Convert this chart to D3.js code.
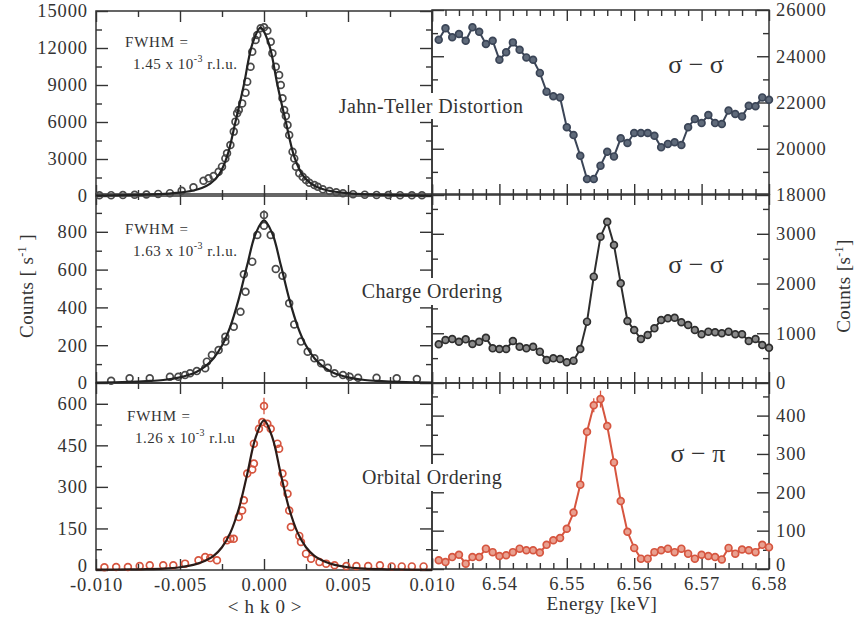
<!DOCTYPE html>
<html>
<head>
<meta charset="utf-8">
<script src="https://cdn.jsdelivr.net/npm/d3@7"></script>
<style>
  body { margin: 0; background: #fff; }
  svg { display: block; }
  text { font-family: "Liberation Serif", "DejaVu Serif", serif; fill: #333; }
</style>
</head>
<body>
<div id="canvas"></div>
<script>
// ---- data ----
// left column: <h k 0> scans (r.l.u.)
const tlH = [-0.0098,-0.0091,-0.0084,-0.0077,-0.0070,-0.0063,-0.0056,-0.0049,-0.0042,-0.0036,-0.0033,-0.0030,-0.0027,-0.0025,-0.0023,-0.0022,-0.0020,-0.0018,-0.0017,-0.0016,-0.0015,-0.0013,-0.0011,-0.0010,-0.0008,-0.0007,-0.0005,-0.0004,-0.0002,0.0000,0.0002,0.0004,0.0005,0.0007,0.0009,0.0010,0.0011,0.0012,0.0013,0.0014,0.0015,0.0017,0.0018,0.0019,0.0021,0.0023,0.0025,0.0027,0.0030,0.0032,0.0035,0.0039,0.0043,0.0047,0.0053,0.0060,0.0067,0.0074,0.0081,0.0088,0.0094];
const tlC = [60,70,80,100,120,170,230,420,700,1240,1430,1620,1970,2380,3050,3460,4140,5220,6030,6700,6970,7510,8380,9270,10480,11700,12650,13050,13600,13680,13400,12510,11570,10480,9810,9000,7920,6970,6490,5760,4950,3590,3050,2380,1840,1560,1300,1080,890,750,540,410,300,220,150,110,90,80,70,60,60];

const mlH = [-0.0091,-0.0080,-0.0068,-0.0056,-0.0051,-0.0047,-0.0044,-0.0040,-0.0035,-0.0034,-0.0031,-0.0027,-0.0023,-0.0023,-0.0018,-0.0014,-0.0011,-0.0012,-0.0007,-0.0004,0.0000,0.0000,0.0004,0.0007,0.0011,0.0015,0.0018,0.0022,0.0026,0.0030,0.0034,0.0038,0.0042,0.0047,0.0051,0.0056,0.0067,0.0079,0.0091];
const mlC = [12,25,25,33,33,42,51,63,78,113,148,175,219,245,298,377,483,575,642,783,889,832,783,603,568,422,310,219,166,131,104,81,51,42,33,28,28,25,21];

const blH = [-0.0095,-0.0088,-0.0081,-0.0074,-0.0068,-0.0060,-0.0054,-0.0047,-0.0039,-0.0035,-0.0032,-0.0028,-0.0022,-0.0020,-0.0018,-0.0015,-0.0013,-0.0012,-0.0010,-0.0007,-0.0006,-0.0006,-0.0003,-0.0001,0.0000,0.0002,0.0004,0.0008,0.0009,0.0011,0.0012,0.0014,0.0015,0.0016,0.0021,0.0022,0.0025,0.0028,0.0033,0.0037,0.0042,0.0049,0.0055,0.0062,0.0069,0.0076,0.0082,0.0088,0.0095];
const blC = [10,11,11,14,17,17,17,23,35,47,43,35,107,113,113,191,215,252,348,363,384,456,510,534,592,528,510,456,438,348,312,275,215,155,123,101,59,41,29,23,17,14,14,14,17,13,13,13,13];

// fitted line profiles
const tlFitH = [-0.0100,-0.0082,-0.0062,-0.0052,-0.0042,-0.0037,-0.0032,-0.0027,-0.0022,-0.0017,-0.0012,-0.0007,-0.0002,0.0003,0.0008,0.0013,0.0018,0.0023,0.0028,0.0033,0.0038,0.0048,0.0058,0.0078,0.0100];
const tlFit = [40,70,150,250,450,650,1000,1700,3200,6000,9000,12300,13650,12300,9000,6000,3200,1700,1000,650,450,250,150,70,40];
const fitH = [-0.010,-0.008,-0.007,-0.006,-0.005,-0.0045,-0.004,-0.0035,-0.003,-0.0025,-0.002,-0.0015,-0.001,-0.0005,0,0.0005,0.001,0.0015,0.002,0.0025,0.003,0.0035,0.004,0.0045,0.005,0.006,0.007,0.008,0.010];
const mlFit = [2,6,10,16,30,42,60,88,131,198,300,445,624,790,860,790,624,445,300,198,131,88,60,42,30,16,10,6,2];
const blFit = [1,2,3,5,10,15,22,33,51,82,135,221,346,478,540,478,346,221,135,82,51,33,22,15,10,5,3,2,1];

// right column: energy scans (keV)
const energy = [6.531,6.532,6.533,6.534,6.535,6.536,6.537,6.538,6.539,6.540,6.541,6.542,6.543,6.544,6.545,6.546,6.547,6.548,6.549,6.550,6.551,6.552,6.553,6.554,6.555,6.556,6.557,6.558,6.559,6.560,6.561,6.562,6.563,6.564,6.565,6.566,6.567,6.568,6.569,6.570,6.571,6.572,6.573,6.574,6.575,6.576,6.577,6.578,6.579,6.580];
const trC = [24716,25210,24820,24960,24670,25250,25060,24530,24670,23850,24170,24600,24280,23950,23850,23280,22470,22270,22220,20930,20590,19700,18690,18690,19270,19870,19670,20450,20250,20680,20680,20680,20560,20060,20210,20280,20160,20930,21290,21110,21460,21110,21070,21650,21500,21400,21860,21840,22220,22120];
const mrC = [778,864,885,830,878,784,830,911,697,684,684,844,730,697,730,630,462,496,482,415,449,684,1233,2138,2942,3243,2774,2004,1246,1066,885,965,1099,1267,1300,1313,1220,1166,1066,979,1032,1019,999,1032,979,979,844,885,764,710];
const brC = [23,18,31,37,14,31,31,53,44,34,36,44,53,49,49,43,63,75,81,105,147,220,358,427,443,373,278,177,97,55,27,27,44,49,53,44,53,40,27,37,34,31,25,55,40,51,49,44,63,57];

// error bars [x, y, err]
const mlErr = [[0.0000, 889, 25]];
const blErr = [[0.0000, 592, 30]];
const brErr = [[6.554, 427, 18], [6.555, 443, 22]];

// ticks
const xLMajor = [-0.010,-0.005,0,0.005,0.010];
const xLMinor = [-0.0075,-0.0025,0.0025,0.0075];
const xRMajor = [6.53,6.54,6.55,6.56,6.57,6.58];
const xRMinor = [6.532,6.534,6.536,6.538,6.542,6.544,6.546,6.548,6.552,6.554,6.556,6.558,6.562,6.564,6.566,6.568,6.572,6.574,6.576,6.578];
const tlTicks = [0,3000,6000,9000,12000,15000], tlMinor = [1500,4500,7500,10500,13500];
const mlTicks = [0,200,400,600,800], mlMinor = [100,300,500,700,900];
const blTicks = [0,150,300,450,600], blMinor = [75,225,375,525];
const trTicks = [18000,20000,22000,24000,26000], trMinor = [19000,21000,23000,25000];
const mrTicks = [0,1000,2000,3000], mrMinor = [500,1500,2500,3500];
const brTicks = [0,100,200,300,400], brMinor = [50,150,250,350,450];

// ---- layout ----
const width = 859, height = 626;
const svg = d3.select("#canvas").append("svg").attr("width", width).attr("height", height);

const xL = d3.scaleLinear().domain([-0.010, 0.010]).range([96, 432]);
const xR = d3.scaleLinear().domain([6.53, 6.58]).range([432, 769]);

const yTL = d3.scaleLinear().domain([0, 15000]).range([196, 11]);
const yML = d3.scaleLinear().domain([0, 1000]).range([383, 194]);
const yBL = d3.scaleLinear().domain([0, 675]).range([570, 383]);
const yTR = d3.scaleLinear().domain([18000, 26000]).range([195, 10]);
const yMR = d3.scaleLinear().domain([0, 3800]).range([383, 194]);
const yBR = d3.scaleLinear().domain([0, 485]).range([569, 383]);

const INK = "#333";

function tickSet(axis, scale, tr, values, size, fmt, pad) {
  const a = axis(scale).tickValues(values).tickSize(-size).tickPadding(pad || 7)
    .tickFormat(fmt || (() => ""));
  const g = svg.append("g").attr("transform", tr).call(a);
  g.select(".domain").remove();
  g.attr("font-size", 18.5).attr("font-family", "Liberation Serif").attr("color", INK);
  g.selectAll("text").attr("letter-spacing", 0.9);
  g.selectAll("line").attr("stroke-width", 1.4);
  return g;
}

function panel(x, y, yTicks, yMinor, side, xTicks, xMinor, xLabels, xFmt) {
  const [x0, x1] = x.range();
  const top = Math.min(...y.range()), bot = Math.max(...y.range());
  svg.append("rect").attr("x", x0).attr("y", top).attr("width", x1 - x0).attr("height", bot - top)
    .attr("fill", "none").attr("stroke", INK).attr("stroke-width", 1.5);
  const yfmt = d => d;
  const yl = tickSet(d3.axisLeft, y, `translate(${x0},0)`, yTicks, 12, side === "left" ? yfmt : null, 8);
  tickSet(d3.axisLeft, y, `translate(${x0},0)`, yMinor, 6);
  const yr = tickSet(d3.axisRight, y, `translate(${x1},0)`, yTicks, 12, side === "right" ? yfmt : null, 7);
  tickSet(d3.axisRight, y, `translate(${x1},0)`, yMinor, 6);
  tickSet(d3.axisTop, x, `translate(0,${top})`, xTicks, 11);
  tickSet(d3.axisTop, x, `translate(0,${top})`, xMinor, 6);
  tickSet(d3.axisBottom, x, `translate(0,${bot})`, xTicks, 11, xLabels ? xFmt : null, 8);
  tickSet(d3.axisBottom, x, `translate(0,${bot})`, xMinor, 6);
  // the bottom row's zero labels sit a little higher, clear of the x labels
  if (xLabels) [yl, yr].forEach(g => g.selectAll("text").filter(d => d === 0).attr("dy", "0.1em"));
}

const fmtL = d => d.toFixed(3);
const fmtR = d => Math.abs(d - 6.53) < 1e-9 ? "" : d.toFixed(2);

panel(xL, yTL, tlTicks, tlMinor, "left", xLMajor, xLMinor, false);
panel(xL, yML, mlTicks, mlMinor, "left", xLMajor, xLMinor, false);
panel(xL, yBL, blTicks, blMinor, "left", xLMajor, xLMinor, true, fmtL);
panel(xR, yTR, trTicks, trMinor, "right", xRMajor, xRMinor, false);
panel(xR, yMR, mrTicks, mrMinor, "right", xRMajor, xRMinor, false);
panel(xR, yBR, brTicks, brMinor, "right", xRMajor, xRMinor, true, fmtR);

// ---- series ----
function dots(xs, ys, x, y, stroke, fill) {
  svg.append("g").selectAll("circle").data(xs.map((d, i) => [d, ys[i]])).join("circle")
    .attr("cx", d => x(d[0])).attr("cy", d => y(d[1])).attr("r", 3.4)
    .attr("fill", fill).attr("stroke", stroke).attr("stroke-width", 1.7);
}
function path(xs, ys, x, y, stroke, w, curve) {
  svg.append("path").datum(xs.map((d, i) => [d, ys[i]]))
    .attr("fill", "none").attr("stroke", stroke).attr("stroke-width", w)
    .attr("d", d3.line().x(d => x(d[0])).y(d => y(d[1])).curve(curve));
}
function errs(list, x, y, stroke) {
  svg.append("g").selectAll("line").data(list).join("line")
    .attr("x1", d => x(d[0])).attr("x2", d => x(d[0]))
    .attr("y1", d => y(d[1] - d[2])).attr("y2", d => y(d[1] + d[2]))
    .attr("stroke", stroke).attr("stroke-width", 1.3);
}

const RED = "#d6553f";

dots(tlH, tlC, xL, yTL, "#4a4a4a", "none");
path(tlFitH, tlFit, xL, yTL, "#222", 2.2, d3.curveCatmullRom);

errs(mlErr, xL, yML, "#444");
dots(mlH, mlC, xL, yML, "#4a4a4a", "none");
path(fitH, mlFit, xL, yML, "#222", 2.2, d3.curveCatmullRom);

errs(blErr, xL, yBL, RED);
dots(blH, blC, xL, yBL, RED, "none");
path(fitH, blFit, xL, yBL, "#2b1b17", 2.2, d3.curveCatmullRom);

path(energy, trC, xR, yTR, "#3b4557", 2, d3.curveLinear);
dots(energy, trC, xR, yTR, "#3b4557", "#5f6a7a");

path(energy, mrC, xR, yMR, "#2e2e2e", 2, d3.curveLinear);
dots(energy, mrC, xR, yMR, "#2e2e2e", "#8a8a8a");

errs(brErr, xR, yBR, RED);
path(energy, brC, xR, yBR, RED, 2, d3.curveLinear);
dots(energy, brC, xR, yBR, RED, "#e9a090");

// ---- text ----
function note(x, y, txt) {
  const g = svg.append("g");
  const r = g.append("rect").attr("fill", "#fff");
  const t = g.append("text").attr("x", x).attr("y", y).attr("text-anchor", "middle")
    .attr("font-size", 20).attr("letter-spacing", 0.4).text(txt);
  const b = t.node().getBBox();
  r.attr("x", b.x - 3).attr("y", b.y - 2).attr("width", b.width + 6).attr("height", b.height + 4);
}
note(431, 113, "Jahn-Teller Distortion");
note(432, 298, "Charge Ordering");
note(432, 484, "Orbital Ordering");

function fwhm(x, y, val, unit) {
  svg.append("text").attr("x", x).attr("y", y).attr("font-size", 15)
    .attr("letter-spacing", 0.8).text("FWHM =");
  const t = svg.append("text").attr("x", x + 8).attr("y", y + 22).attr("font-size", 15)
    .attr("letter-spacing", 0.5);
  t.append("tspan").text(val + " x 10");
  t.append("tspan").attr("dy", -7).attr("font-size", 10).text("-3");
  t.append("tspan").attr("dy", 7).text(" " + unit);
}
fwhm(125, 47, "1.45", "r.l.u.");
fwhm(125, 234, "1.63", "r.l.u.");
fwhm(127, 421, "1.26", "r.l.u");

function pol(x, y, txt) {
  svg.append("text").attr("x", x).attr("y", y).attr("text-anchor", "middle")
    .attr("font-size", 26).text(txt);
}
pol(696, 73, "σ − σ");
pol(696, 273, "σ − σ");
pol(698, 462, "σ − π");

function counts(x, y, txt, sp) {
  const t = svg.append("text").attr("transform", `translate(${x},${y}) rotate(-90)`)
    .attr("text-anchor", "middle").attr("font-size", 19).attr("letter-spacing", 0.4);
  t.append("tspan").text(txt);
  t.append("tspan").attr("dy", -7).attr("font-size", 12).text("-1");
  t.append("tspan").attr("dy", 7).text(sp + "]");
}
counts(33, 286, "Counts [ s", " ");
counts(850, 286, "Counts [s", "");

svg.append("text").attr("x", 265).attr("y", 613).attr("text-anchor", "middle")
  .attr("font-size", 19).attr("letter-spacing", 0.6).text("< h k 0 >");
svg.append("text").attr("x", 602).attr("y", 610).attr("text-anchor", "middle")
  .attr("font-size", 19).attr("letter-spacing", 0.6).text("Energy [keV]");
</script>
</body>
</html>
